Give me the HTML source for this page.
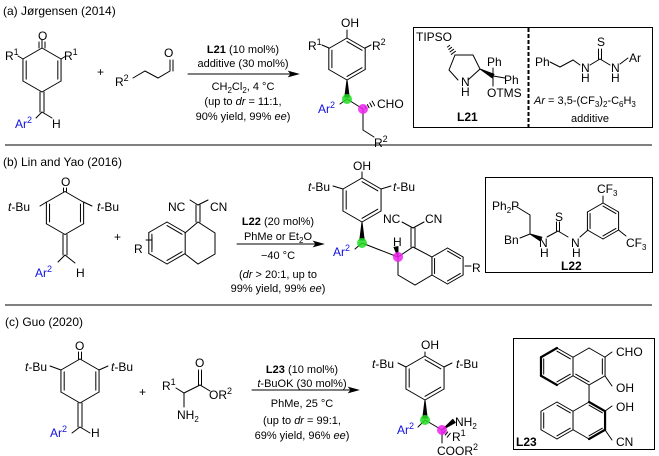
<!DOCTYPE html>
<html><head><meta charset="utf-8"><style>
html,body{margin:0;padding:0;background:#fff;}
svg{display:block;font-family:"Liberation Sans",Arial,sans-serif;font-size:12px;}
.c{font-size:11px;}
.b{fill:#1010e0;}
</style></head><body>
<svg id="s" width="659" height="456" viewBox="0 0 659 456" xmlns="http://www.w3.org/2000/svg">
<g id="g" stroke="#000" stroke-width="1" fill="none" stroke-linecap="round"></g>
<line x1="5" y1="145" x2="652" y2="145" stroke="#000"/>
<line x1="5" y1="305" x2="652" y2="305" stroke="#000"/>
<rect x="413.5" y="27.5" width="239" height="100" fill="none" stroke="#000"/>
<line x1="528.5" y1="28" x2="528.5" y2="128" stroke="#000" stroke-width="2" stroke-dasharray="4,2"/>
<rect x="485.5" y="177.5" width="167" height="95" fill="none" stroke="#000"/>
<rect x="513.5" y="338.5" width="141" height="111" fill="none" stroke="#000"/>

<text x="3" y="15">(a) Jørgensen  (2014)</text>
<text x="3" y="166">(b) Lin and Yao  (2016)</text>
<text x="5" y="326">(c) Guo  (2020)</text>

<text x="38" y="40">O</text>
<text x="5" y="60">R<tspan dy="-5" font-size="9">1</tspan></text>
<text x="64" y="60">R<tspan dy="-5" font-size="9">1</tspan></text>
<text x="15" y="128" class="b">Ar<tspan dy="-5" font-size="9">2</tspan></text>
<text x="52" y="128">H</text>
<text x="97" y="76">+</text>
<text x="115" y="86">R<tspan dy="-5" font-size="9">2</tspan></text>
<text x="164" y="57">O</text>
<text class="c" x="243" y="53" text-anchor="middle"><tspan font-weight="bold">L21</tspan> (10 mol%)</text>
<text class="c" x="243" y="67" text-anchor="middle">additive (30 mol%)</text>
<text class="c" x="243" y="90" text-anchor="middle">CH<tspan dy="3" font-size="8">2</tspan><tspan dy="-3">Cl</tspan><tspan dy="3" font-size="8">2</tspan><tspan dy="-3">, 4 °C</tspan></text>
<text class="c" x="243" y="105" text-anchor="middle">(up to <tspan font-style="italic">dr</tspan> = 11:1,</text>
<text class="c" x="243" y="120" text-anchor="middle">90% yield, 99% <tspan font-style="italic">ee</tspan>)</text>
<text x="341" y="27">OH</text>
<text x="308" y="50">R<tspan dy="-5" font-size="9">1</tspan></text>
<text x="372" y="50">R<tspan dy="-5" font-size="9">2</tspan></text>
<text x="318" y="113" class="b">Ar<tspan dy="-5" font-size="9">2</tspan></text>
<text x="377" y="108">CHO</text>
<text x="374" y="147">R<tspan dy="-5" font-size="9">2</tspan></text>
<text x="416" y="41">TIPSO</text>
<text x="461" y="86">N</text><text x="461" y="96">H</text>
<text x="487" y="66">Ph</text>
<text x="504" y="84">Ph</text>
<text x="487" y="97">OTMS</text>
<text x="457" y="121" font-weight="bold">L21</text>
<text x="535" y="66">Ph</text>
<text x="597" y="46">S</text>
<text x="581" y="72">N</text><text x="581" y="82">H</text>
<text x="611" y="72">N</text><text x="611" y="82">H</text>
<text x="629" y="62">Ar</text>
<text class="c" x="534" y="104"><tspan font-style="italic">Ar</tspan> = 3,5-(CF<tspan dy="3" font-size="8">3</tspan><tspan dy="-3">)</tspan><tspan dy="3" font-size="8">2</tspan><tspan dy="-3">-C</tspan><tspan dy="3" font-size="8">6</tspan><tspan dy="-3">H</tspan><tspan dy="3" font-size="8">3</tspan></text>
<text class="c" x="590" y="122" text-anchor="middle">additive</text>

<text x="61" y="186">O</text>
<text x="8" y="211"><tspan font-style="italic">t</tspan>-Bu</text>
<text x="97" y="211"><tspan font-style="italic">t</tspan>-Bu</text>
<text x="35" y="277" class="b">Ar<tspan dy="-5" font-size="9">2</tspan></text>
<text x="76" y="277">H</text>
<text x="114" y="241">+</text>
<text x="168" y="211">NC</text>
<text x="210" y="211">CN</text>
<text x="134" y="253">R</text>
<text class="c" x="278" y="225" text-anchor="middle"><tspan font-weight="bold">L22</tspan> (20 mol%)</text>
<text class="c" x="278" y="240" text-anchor="middle">PhMe or Et<tspan dy="3" font-size="8">2</tspan><tspan dy="-3">O</tspan></text>
<text class="c" x="278" y="259" text-anchor="middle">−40 °C</text>
<text class="c" x="278" y="278" text-anchor="middle">(<tspan font-style="italic">dr</tspan> &gt; 20:1, up to</text>
<text class="c" x="278" y="292" text-anchor="middle">99% yield, 99% <tspan font-style="italic">ee</tspan>)</text>
<text x="353" y="170">OH</text>
<text x="308" y="191"><tspan font-style="italic">t</tspan>-Bu</text>
<text x="393" y="191"><tspan font-style="italic">t</tspan>-Bu</text>
<text x="333" y="256" class="b">Ar<tspan dy="-5" font-size="9">2</tspan></text>
<text x="383" y="223">NC</text>
<text x="425" y="223">CN</text>
<text x="393" y="246">H</text>
<text x="472" y="272">R</text>
<text x="492" y="210">Ph<tspan dy="3" font-size="8">2</tspan><tspan dy="-3">P</tspan></text>
<text x="504" y="244">Bn</text>
<text x="539" y="247">N</text><text x="540" y="257">H</text>
<text x="555" y="221">S</text>
<text x="571" y="247">N</text><text x="572" y="257">H</text>
<text x="597" y="193">CF<tspan dy="3" font-size="8">3</tspan></text>
<text x="626" y="247">CF<tspan dy="3" font-size="8">3</tspan></text>
<text x="561" y="270" font-weight="bold">L22</text>

<text x="75" y="350">O</text>
<text x="25" y="371"><tspan font-style="italic">t</tspan>-Bu</text>
<text x="111" y="371"><tspan font-style="italic">t</tspan>-Bu</text>
<text x="50" y="437" class="b">Ar<tspan dy="-5" font-size="9">2</tspan></text>
<text x="91" y="437">H</text>
<text x="139" y="396">+</text>
<text x="162" y="390">R<tspan dy="-5" font-size="9">1</tspan></text>
<text x="195" y="367">O</text>
<text x="209" y="399">OR<tspan dy="-5" font-size="9">2</tspan></text>
<text x="177" y="419">NH<tspan dy="3" font-size="8">2</tspan></text>
<text class="c" x="302" y="373" text-anchor="middle"><tspan font-weight="bold">L23</tspan> (10 mol%)</text>
<text class="c" x="302" y="387" text-anchor="middle"><tspan font-style="italic">t</tspan>-BuOK (30 mol%)</text>
<text class="c" x="302" y="407" text-anchor="middle">PhMe, 25 °C</text>
<text class="c" x="302" y="424" text-anchor="middle">(up to <tspan font-style="italic">dr</tspan> = 99:1,</text>
<text class="c" x="302" y="439" text-anchor="middle">69% yield, 96% <tspan font-style="italic">ee</tspan>)</text>
<text x="421" y="349">OH</text>
<text x="372" y="368"><tspan font-style="italic">t</tspan>-Bu</text>
<text x="456" y="368"><tspan font-style="italic">t</tspan>-Bu</text>
<text x="397" y="434" class="b">Ar<tspan dy="-5" font-size="9">2</tspan></text>
<text x="455" y="426">NH<tspan dy="3" font-size="8">2</tspan></text>
<text x="452" y="441">R<tspan dy="-5" font-size="9">1</tspan></text>
<text x="437" y="455">COOR<tspan dy="-5" font-size="9">2</tspan></text>
<text x="616" y="356">CHO</text>
<text x="616" y="392">OH</text>
<text x="616" y="411">OH</text>
<text x="616" y="446">CN</text>
<text x="516" y="446" font-weight="bold">L23</text>
<g id="dots"></g>
</svg>
<script>
var g=document.getElementById('g'),NS='http://www.w3.org/2000/svg';
function L(a,b,c,d,w){var e=document.createElementNS(NS,'line');e.setAttribute('x1',a);e.setAttribute('y1',b);e.setAttribute('x2',c);e.setAttribute('y2',d);if(w)e.setAttribute('stroke-width',w);g.appendChild(e);}
function P(pts,w){var e=document.createElementNS(NS,'polyline');e.setAttribute('points',pts.map(function(p){return p.join(',')}).join(' '));if(w)e.setAttribute('stroke-width',w);g.appendChild(e);}
function H(cx,cy,r,d,skip,bold){var k=0.866*r,v=[[cx,cy-r],[cx+k,cy-r/2],[cx+k,cy+r/2],[cx,cy+r],[cx-k,cy+r/2],[cx-k,cy-r/2]];
 for(var i=0;i<6;i++){if(skip&&skip.indexOf(i)>=0)continue;var a=v[i],b=v[(i+1)%6];L(a[0],a[1],b[0],b[1],bold&&bold.indexOf(i)>=0?2.2:0);}
 (d||[]).forEach(function(i){var a=v[i],b=v[(i+1)%6],f=0.17;L(a[0]+(cx-a[0])*f,a[1]+(cy-a[1])*f,b[0]+(cx-b[0])*f,b[1]+(cy-b[1])*f);});return v;}
function W(a,b,c,d,wd){var dx=c-a,dy=d-b,l=Math.sqrt(dx*dx+dy*dy),nx=-dy/l*wd,ny=dx/l*wd;var e=document.createElementNS(NS,'polygon');e.setAttribute('points',a+','+b+' '+(c+nx)+','+(d+ny)+' '+(c-nx)+','+(d-ny));e.setAttribute('fill','#000');g.appendChild(e);}
function D(a,b,c,d,n){for(var i=1;i<=n;i++){var t=i/(n+1),x=a+(c-a)*t,y=b+(d-b)*t,w=1+2*t,dx=c-a,dy=d-b,l=Math.sqrt(dx*dx+dy*dy);L(x-dy/l*w,y+dx/l*w,x+dy/l*w,y-dx/l*w);}}
function Dbl(a,b,c,d,o){var dx=c-a,dy=d-b,l=Math.sqrt(dx*dx+dy*dy),nx=-dy/l*o,ny=dx/l*o;L(a+nx,b+ny,c+nx,d+ny);L(a-nx,b-ny,c-nx,d-ny);}
function A(x1,x2,y){L(x1,y,x2-7,y);var e=document.createElementNS(NS,'polygon');e.setAttribute('points',x2+','+y+' '+(x2-9)+','+(y-2.5)+' '+(x2-7)+','+y+' '+(x2-9)+','+(y+2.5));e.setAttribute('fill','#000');g.appendChild(e);}
function C(x,y,col){var e=document.createElementNS(NS,'circle');e.setAttribute('cx',x);e.setAttribute('cy',y);e.setAttribute('r',5);e.setAttribute('fill',col);e.setAttribute('stroke','none');e.setAttribute('opacity','0.85');document.getElementById('dots').appendChild(e);}
var v=H(42,70,22,[1,4]);L(42,48,42,40);L(39,48,39,42);L(45,48,45,42);
L(23,59,18,56);L(61,59,66,56);Dbl(42,92,42,112,2);L(42,112,52,118);L(42,112,36,118);
P([[133,78],[145,71],[158,78],[170,71],[170,60]]);L(173,71,173,60);
A(188,298,74);
v=H(347,59,21,[0,2,4]);L(347,38,347,30);L(329,48,322,45);L(365,48,371,45);
W(347,80,347,97,2.2);L(347,99,340,104);L(347,99,363,109);D(363,109,376,102,4);L(363,109,363,130);L(363,130,374,137);
C(347,99,'#22dd22');C(363,109,'#ee22ee');
D(447,44,455,55,4);P([[455,55],[473,55],[480,69],[468,80]]);P([[458,80],[449,70],[455,55]]);
W(480,69,493,76,2);L(493,76,493,68);L(493,76,505,78);L(493,76,493,86);
P([[550,62],[560,67],[573,60],[580,65]]);L(590,65,600,59);L(600,59,610,65);Dbl(600,59,600,49,1.5);L(620,64,628,58);
H(65,213,21.5,[1,4]);Dbl(65,191.5,65,188,1.5);L(46.5,202,40,206);L(83.5,202,92,206);Dbl(65,234.5,65,255,2);L(65,255,75,263);L(65,255,58,262);
H(167,243,21,[0,2,4]);P([[185,233],[198,222],[215,233],[215,254],[198,264],[185,254]]);Dbl(198,222,198,205,2);L(198,205,190,200);L(198,205,208,200);L(146,240,152,240);L(152,237,152,249);
A(237,323,244);
H(362,200,22,[0,2,4]);L(362,178,362,172);L(343,189,333,186);L(381,189,391,186);
W(362,222,362,240,2.2);L(362,243,355,249);L(362,243,398,257);W(398,257,396,247,2);
P([[398,257],[413,247],[432,257],[432,275],[415,285],[398,275],[398,257]]);Dbl(413,247,413,228,2);L(413,228,402,222);L(413,228,424,222);
H(447.5,266,18,[0,2,4]);L(465,266,471,266);
C(362,243,'#22dd22');C(398,257,'#ee22ee');
P([[517,207],[530,215],[530,234]]);L(520,238,530,234);W(530,234,541,239,2);L(547,237,558,231);L(558,231,568,237);Dbl(558,231,558,222,1.5);L(580,237,588,230);
H(603,221,18,[0,2,4]);L(603,203,603,196);L(618.5,230,626,236);
H(80,381,22,[1,4]);Dbl(80,359,80,352,1.5);L(61,370,50,366);L(99,370,108,366);Dbl(80,403,80,427,2);L(80,427,90,433);L(80,427,72,433);
P([[176,388],[184,393],[200,385],[210,391]]);Dbl(200,385,200,370,1.5);L(184,393,184,407);
A(252,358,390);
H(425,378,22,[0,2,4]);L(425,356,425,352);L(406,367,398,363);L(444,367,452,363);
W(425,400,425,418,2.2);L(425,420,418,427);L(425,420,442,430);W(442,430,454,421,2);D(442,430,451,437,3);L(442,430,442,443);
C(425,420,'#22dd22');C(442,430,'#ee22ee');
var k=0.866*18.5;
H(557,366.5,18.5,[0,2,4],null,[3,4,5]);H(557+2*k,366.5,18.5,[1,3],[4]);L(557+3*k,357,612,352);L(557+3*k,376,612,386);
L(557+2*k,385,557+2*k,402);
H(557,420.5,18.5,[0,2,4],[1]);H(557+2*k,420.5,18.5,[0,2],null,[0,1,2]);L(557+3*k,411,612,406);L(557+3*k,430,612,440);
</script>
</body></html>
